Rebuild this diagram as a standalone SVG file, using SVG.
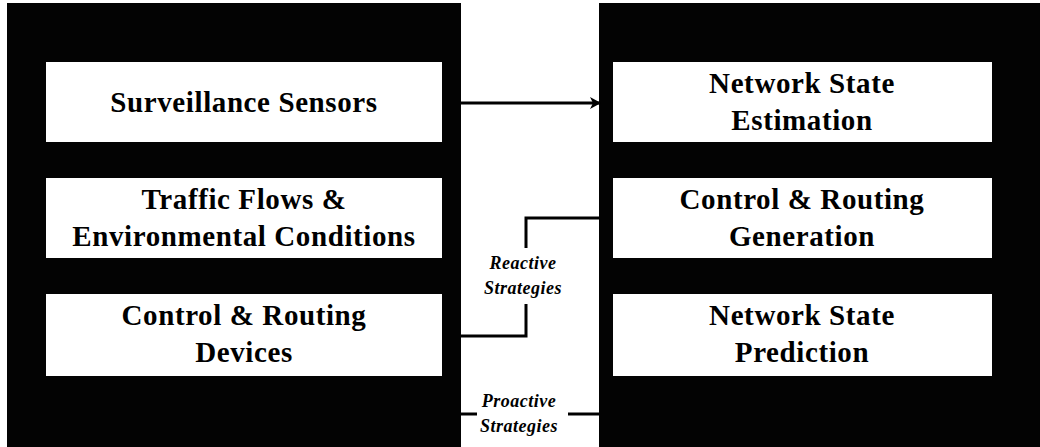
<svg xmlns="http://www.w3.org/2000/svg" width="1040" height="447" viewBox="0 0 1040 447">
<defs>
<style>
.panel{fill:#030303}
.box{fill:#ffffff}
.t{font-family:"Liberation Serif","Times New Roman",serif;font-weight:bold;font-size:29px;letter-spacing:0.6px;fill:#000;text-anchor:middle}
.lbl{font-family:"Liberation Serif","Times New Roman",serif;font-weight:bold;font-style:italic;font-size:18px;letter-spacing:0.5px;fill:#000;text-anchor:middle}
.conn{fill:none;stroke:#000;stroke-width:3}
</style>
<marker id="arr" markerWidth="12" markerHeight="12" refX="10" refY="6" orient="auto" markerUnits="userSpaceOnUse">
<path d="M0,0 L11,6 L0,12 L3,6 Z" fill="#000"/>
</marker>
</defs>
<rect width="1040" height="447" fill="#ffffff"/>
<g id="panel-left"><rect class="panel" x="7" y="3" width="454" height="444"/></g>
<g id="panel-right"><rect class="panel" x="599" y="3" width="441" height="444"/></g>
<g id="surveillance-sensors">
<rect class="box" x="46" y="62" width="396" height="80"/>
<text class="t" x="244" y="112">Surveillance Sensors</text>
</g>
<g id="traffic-flows">
<rect class="box" x="46" y="178" width="396" height="80"/>
<text class="t" x="244" y="209">Traffic Flows &amp;</text>
<text class="t" x="244" y="246">Environmental Conditions</text>
</g>
<g id="control-routing-devices">
<rect class="box" x="46" y="294" width="396" height="82"/>
<text class="t" x="244" y="325">Control &amp; Routing</text>
<text class="t" x="244" y="362">Devices</text>
</g>
<g id="network-state-estimation">
<rect class="box" x="613" y="62" width="379" height="80"/>
<text class="t" x="802" y="93">Network State</text>
<text class="t" x="802" y="130">Estimation</text>
</g>
<g id="control-routing-generation">
<rect class="box" x="613" y="178" width="379" height="80"/>
<text class="t" x="802" y="209">Control &amp; Routing</text>
<text class="t" x="802" y="246">Generation</text>
</g>
<g id="network-state-prediction">
<rect class="box" x="613" y="294" width="379" height="82"/>
<text class="t" x="802" y="325">Network State</text>
<text class="t" x="802" y="362">Prediction</text>
</g>
<g id="connectors">
<line class="conn" x1="461" y1="103" x2="600" y2="103" marker-end="url(#arr)"/>
<polyline class="conn" points="599,218 526,218 526,248"/>
<polyline class="conn" points="526,304 526,336 461,336"/>
<line class="conn" x1="461" y1="414" x2="477" y2="414"/>
<line class="conn" x1="568" y1="414" x2="599" y2="414"/>
<text class="lbl" x="523" y="269">Reactive</text>
<text class="lbl" x="523" y="294">Strategies</text>
<text class="lbl" x="519" y="407">Proactive</text>
<text class="lbl" x="519" y="432">Strategies</text>
</g>
</svg>
